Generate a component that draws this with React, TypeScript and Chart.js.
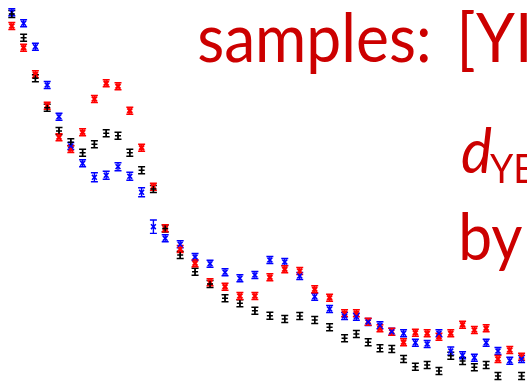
import React, { useEffect, useRef } from "react";
import { Chart, registerables } from "chart.js";

Chart.register(...registerables);

// x position of each bin (arbitrary units)
const xValues = [
  1, 2, 3, 4, 5, 6, 7, 8, 9, 10, 11, 12, 13, 14,
  15.27, 16.53, 17.8, 19.07, 20.33, 21.6, 22.87, 24.13, 25.4, 26.67, 27.93, 29.2,
  30.2, 31.2, 32.2, 33.2, 34.2, 35.2, 36.2, 37.2, 38.2, 39.2, 40.2, 41.2, 42.2, 43.2, 44.2,
];

const blueValues = [
  36.87, 35.77, 33.43, 29.6, 26.43, 23.5, 21.77, 20.37, 20.57, 21.43, 20.47, 18.87, 15.43, 14.27,
  13.67, 12.4, 11.73, 10.87, 10.27, 10.6, 12.1, 11.9, 10.5, 8.43, 7.2, 6.5,
  6.43, 5.9, 5.57, 4.93, 4.77, 3.83, 3.7, 4.77, 3.0, 2.57, 2.33, 3.83, 3.0, 2.03, 2.2,
];
const redValues = [
  35.5, 33.33, 30.67, 27.53, 24.37, 23.2, 24.87, 28.2, 29.77, 29.47, 27.03, 23.33, 19.43, 15.27,
  13.2, 11.77, 9.87, 9.43, 8.5, 8.5, 10.37, 11.17, 11.0, 9.17, 8.33, 6.77,
  6.77, 5.93, 5.27, 4.93, 3.87, 4.83, 4.77, 4.43, 4.77, 5.63, 5.1, 5.27, 2.2, 3.1, 2.43,
];
const blackValues = [
  36.7, 34.33, 30.27, 27.33, 25.0, 23.87, 22.83, 23.67, 24.77, 24.53, 22.83, 21.07, 19.2, 15.25,
  12.6, 10.93, 9.7, 8.27, 7.77, 7.03, 6.53, 6.2, 6.5, 6.1, 5.37, 4.27,
  4.7, 3.87, 3.27, 3.2, 2.2, 1.43, 1.6, 1.0, 2.53, 2.0, 1.37, 1.6, 0.5, -0.7, 0.5,
];

const blueErrors = [
  0.35, 0.35, 0.35, 0.35, 0.35, 0.35, 0.35, 0.45, 0.4, 0.4, 0.4, 0.45, 0.67, 0.35,
  0.35, 0.35, 0.35, 0.35, 0.35, 0.35, 0.35, 0.35, 0.35, 0.35, 0.35, 0.35,
  0.35, 0.35, 0.35, 0.35, 0.35, 0.35, 0.35, 0.35, 0.4, 0.35, 0.35, 0.35, 0.35, 0.35, 0.35,
];
const redErrors = blueValues.map(() => 0.35);
const blackErrors = blueValues.map(() => 0.35);

const headerText = "samples:";
const bracketText = "[YI";
const dText = "d";
const dSubText = "YE";
const byText = "by";

const BLUE = "#0000ff";
const RED = "#ff0000";
const BLACK = "#000000";
const TEXT_COLOR = "#cc0000";

const toPoints = (vals: number[]) => vals.map((v, i) => ({ x: xValues[i], y: v }));

const errorBarPlugin = {
  id: "errorBars",
  beforeDatasetsDraw(chart: any) {
    const { ctx, scales } = chart;
    const xs = scales.x;
    const ys = scales.y;
    chart.data.datasets.forEach((ds: any) => {
      const errs: number[] = ds.errors;
      ctx.save();
      ctx.strokeStyle = ds.borderColor;
      ctx.lineWidth = 1.4;
      ds.data.forEach((p: any, i: number) => {
        const px = xs.getPixelForValue(p.x);
        const top = ys.getPixelForValue(p.y + errs[i]);
        const bot = ys.getPixelForValue(p.y - errs[i]);
        ctx.beginPath();
        ctx.moveTo(px, top);
        ctx.lineTo(px, bot);
        ctx.moveTo(px - 3.5, top);
        ctx.lineTo(px + 3.5, top);
        ctx.moveTo(px - 3.5, bot);
        ctx.lineTo(px + 3.5, bot);
        ctx.stroke();
      });
      ctx.restore();
    });
  },
};

const textPlugin = {
  id: "overlayText",
  afterDraw(chart: any) {
    const ctx = chart.ctx;
    ctx.save();
    ctx.fillStyle = TEXT_COLOR;
    const family = "Lato, 'DejaVu Sans', sans-serif";
    ctx.font = `67px ${family}`;
    const m = ctx.measureText(headerText);
    const ink = m.actualBoundingBoxLeft + m.actualBoundingBoxRight;
    const sx = 229 / ink;
    const draw = (t: string, left: number, base: number, font: string) => {
      ctx.font = font;
      const mm = ctx.measureText(t);
      ctx.save();
      ctx.translate(left + mm.actualBoundingBoxLeft * sx, base);
      ctx.scale(sx, 1);
      ctx.fillText(t, 0, 0);
      ctx.restore();
    };
    draw(headerText, 199, 62, `67px ${family}`);
    draw(bracketText, 462, 62, `67px ${family}`);
    draw(dText, 462, 173, `italic 63px ${family}`);
    draw(dSubText, 490, 183, `40px ${family}`);
    draw(byText, 462, 260, `65px ${family}`);
    ctx.restore();
  },
};

export default function App() {
  const ref = useRef<HTMLCanvasElement | null>(null);
  useEffect(() => {
    document.body.style.margin = "0";
    const canvas = ref.current!;
    const chart = new Chart(canvas, {
      type: "scatter",
      data: {
        datasets: [
          {
            label: "black",
            data: toPoints(blackValues),
            errors: blackErrors,
            borderColor: BLACK,
            backgroundColor: BLACK,
            pointStyle: "cross",
            pointRadius: 3,
            pointBorderWidth: 1.4,
          } as any,
          {
            label: "blue",
            data: toPoints(blueValues),
            errors: blueErrors,
            borderColor: BLUE,
            backgroundColor: BLUE,
            pointStyle: "crossRot",
            pointRadius: 3.4,
            pointBorderWidth: 1.6,
          } as any,
          {
            label: "red",
            data: toPoints(redValues),
            errors: redErrors,
            borderColor: RED,
            backgroundColor: RED,
            pointStyle: "crossRot",
            pointRadius: 3.4,
            pointBorderWidth: 2.2,
          } as any,
        ],
      },
      options: {
        animation: false,
        responsive: false,
        maintainAspectRatio: false,
        layout: { padding: 0, autoPadding: false } as any,
        clip: false as any,
        plugins: {
          legend: { display: false },
          tooltip: { enabled: false },
        },
        scales: {
          x: { type: "linear", display: false, min: 0, max: 44.66 },
          y: { type: "linear", display: false, min: 0, max: 38.1 },
        },
      },
      plugins: [errorBarPlugin, textPlugin],
    });
    return () => chart.destroy();
  }, []);
  return (
    <div style={{ position: "fixed", left: 0, top: 0, width: 527, height: 381, background: "#fff" }}>
      <canvas ref={ref} width={527} height={381} style={{ display: "block" }} />
    </div>
  );
}
